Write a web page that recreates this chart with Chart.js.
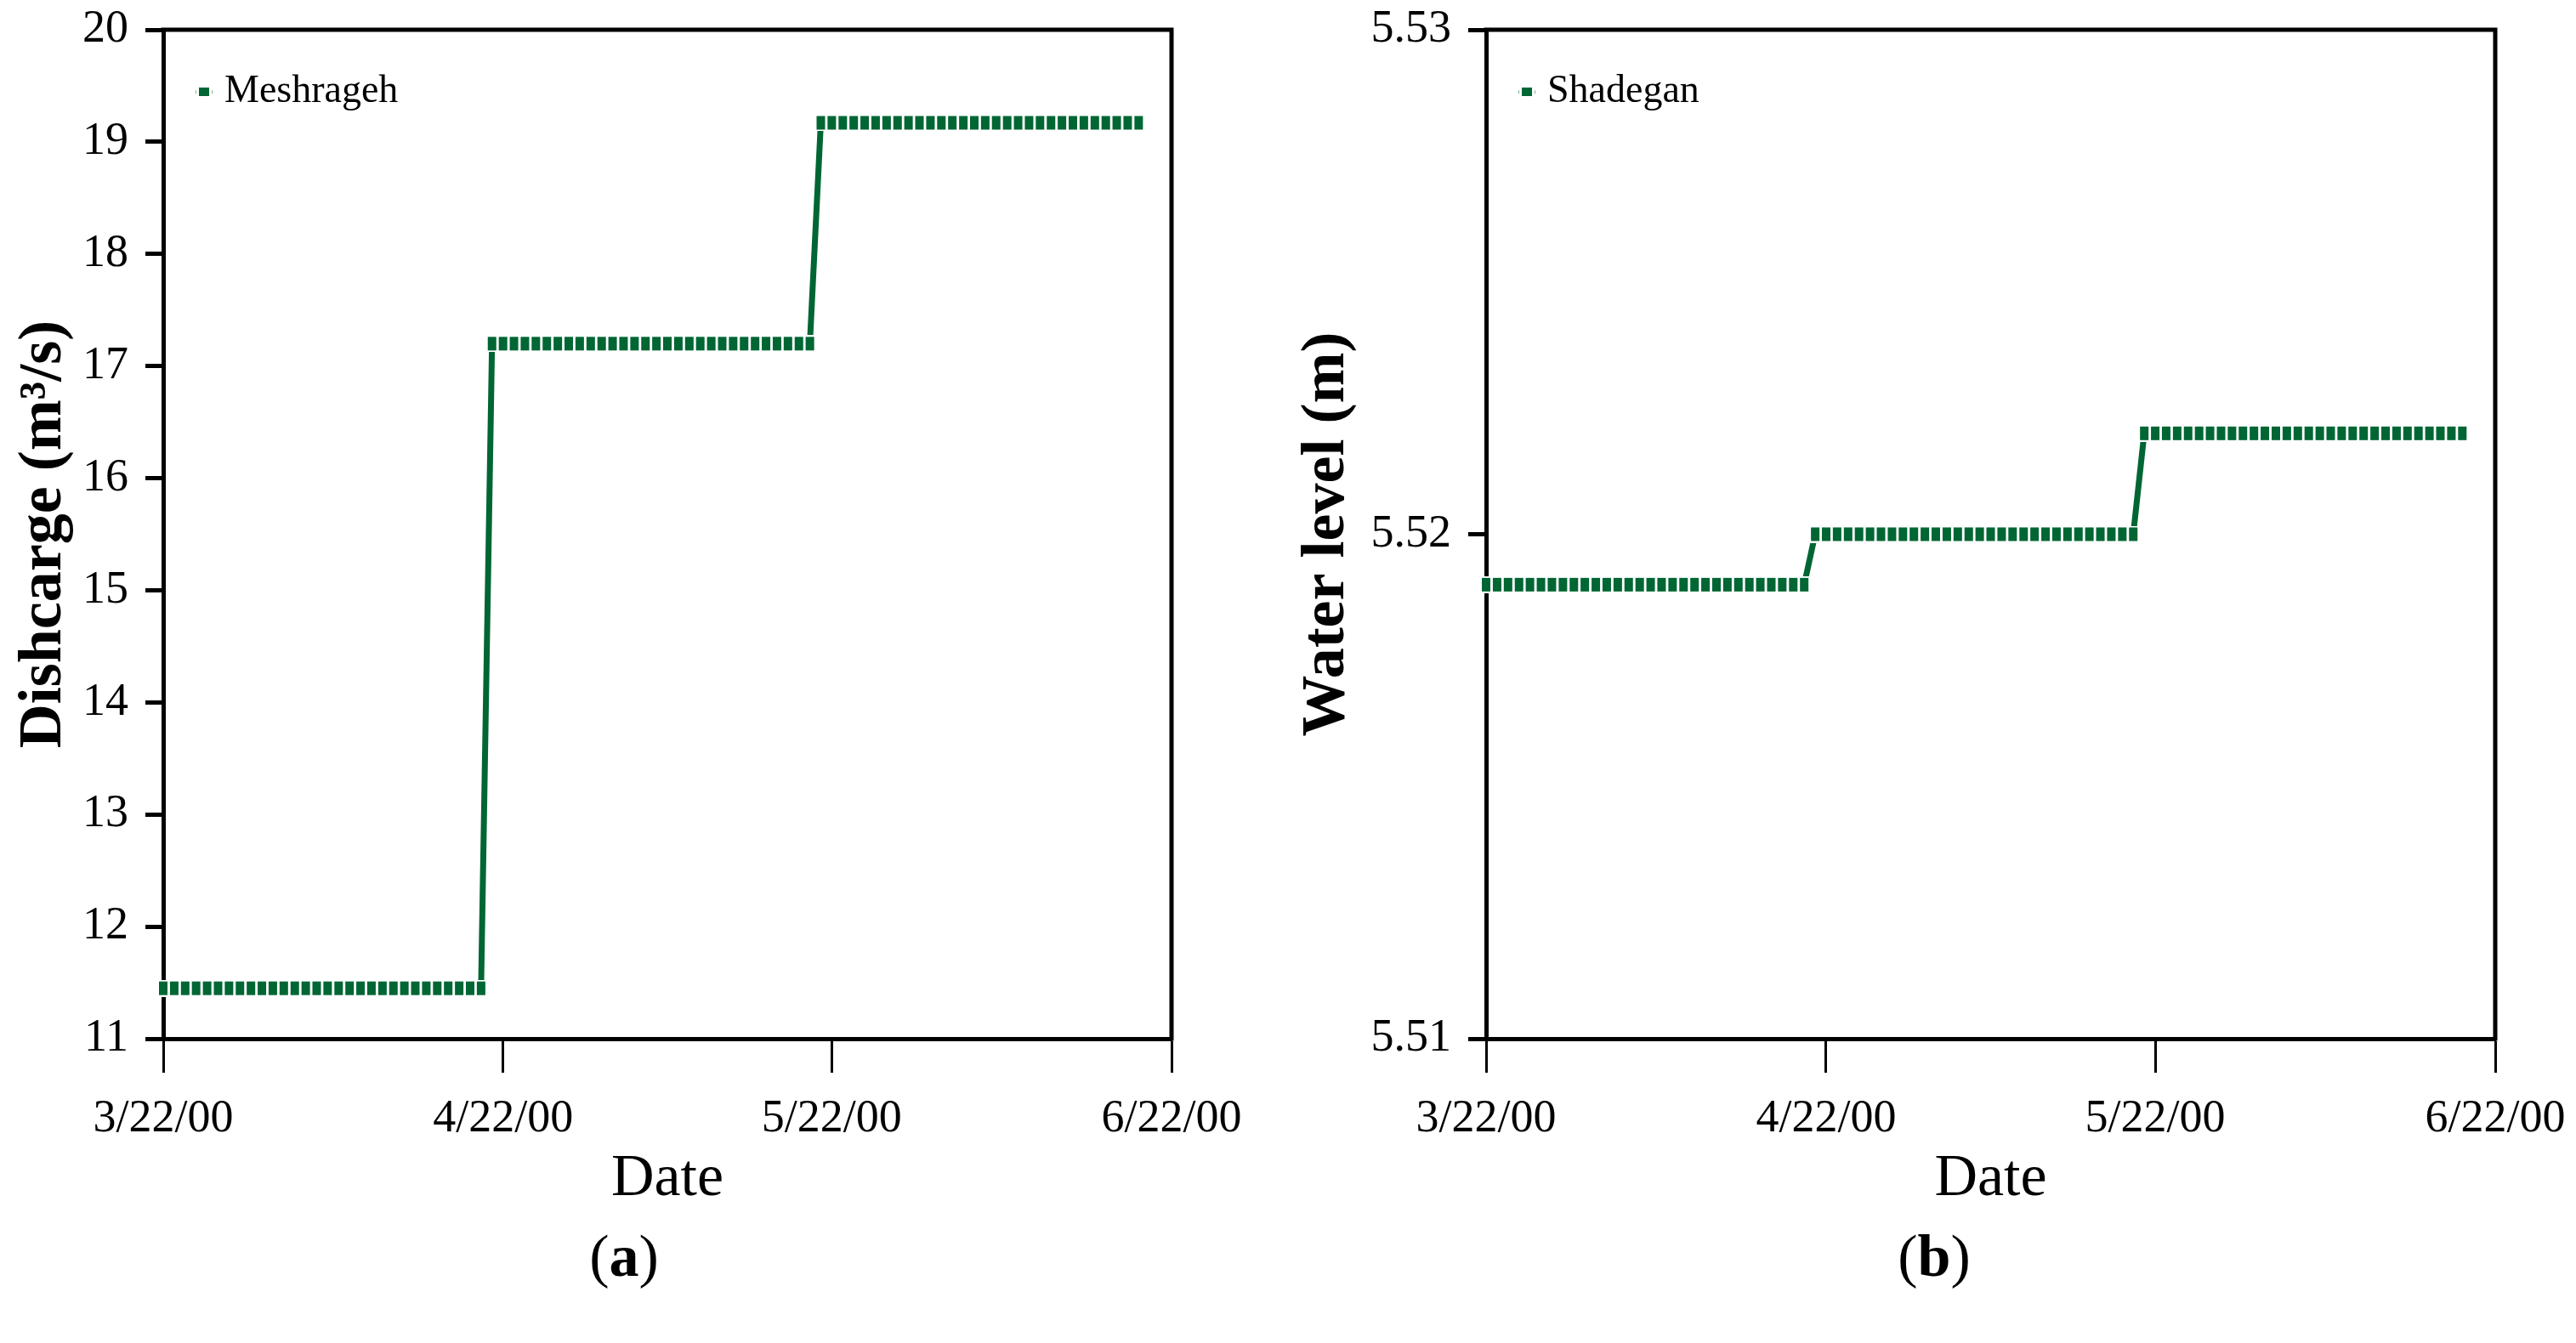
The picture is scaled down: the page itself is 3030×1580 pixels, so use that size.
<!DOCTYPE html>
<html lang="en">
<head>
	<meta charset="UTF-8">
	<title>Meshrageh / Shadegan</title>
	<script src="https://cdn.jsdelivr.net/npm/chart.js"></script>
	<style>
		html, body { margin: 0; padding: 0; background: #fff; }
		body { width: 3030px; height: 1580px; position: relative; overflow: hidden; }
		canvas { position: absolute; top: 0; }
		#chartA { left: 0; }
		#chartB { left: 1509px; }
		.cap { position: absolute; top: 1436px; font-family: 'Liberation Serif', serif; font-size: 70px; line-height: 84px; transform: translateX(-50%); }
	</style>
</head>
<body>
	<canvas id="chartA" width="1509" height="1430"></canvas>
	<canvas id="chartB" width="1531" height="1430"></canvas>
	<div class="cap" style="left:734px">(<b>a</b>)</div>
	<div class="cap" style="left:2275px">(<b>b</b>)</div>

	<script>
		// days after 3/22/00, one reading per day
		const days = [
			0, 1, 2, 3, 4, 5, 6, 7, 8, 9,
			10, 11, 12, 13, 14, 15, 16, 17, 18, 19,
			20, 21, 22, 23, 24, 25, 26, 27, 28, 29,
			30, 31, 32, 33, 34, 35, 36, 37, 38, 39,
			40, 41, 42, 43, 44, 45, 46, 47, 48, 49,
			50, 51, 52, 53, 54, 55, 56, 57, 58, 59,
			60, 61, 62, 63, 64, 65, 66, 67, 68, 69,
			70, 71, 72, 73, 74, 75, 76, 77, 78, 79,
			80, 81, 82, 83, 84, 85, 86, 87, 88, 89
		];
		// discharge (m3/s) at Meshrageh
		const meshrageh = [
			11.45, 11.45, 11.45, 11.45, 11.45, 11.45, 11.45, 11.45, 11.45, 11.45,
			11.45, 11.45, 11.45, 11.45, 11.45, 11.45, 11.45, 11.45, 11.45, 11.45,
			11.45, 11.45, 11.45, 11.45, 11.45, 11.45, 11.45, 11.45, 11.45, 11.45,
			17.2, 17.2, 17.2, 17.2, 17.2, 17.2, 17.2, 17.2, 17.2, 17.2,
			17.2, 17.2, 17.2, 17.2, 17.2, 17.2, 17.2, 17.2, 17.2, 17.2,
			17.2, 17.2, 17.2, 17.2, 17.2, 17.2, 17.2, 17.2, 17.2, 17.2,
			19.17, 19.17, 19.17, 19.17, 19.17, 19.17, 19.17, 19.17, 19.17, 19.17,
			19.17, 19.17, 19.17, 19.17, 19.17, 19.17, 19.17, 19.17, 19.17, 19.17,
			19.17, 19.17, 19.17, 19.17, 19.17, 19.17, 19.17, 19.17, 19.17, 19.17
		];
		// water level (m) at Shadegan
		const shadegan = [
			5.519, 5.519, 5.519, 5.519, 5.519, 5.519, 5.519, 5.519, 5.519, 5.519,
			5.519, 5.519, 5.519, 5.519, 5.519, 5.519, 5.519, 5.519, 5.519, 5.519,
			5.519, 5.519, 5.519, 5.519, 5.519, 5.519, 5.519, 5.519, 5.519, 5.519,
			5.520, 5.520, 5.520, 5.520, 5.520, 5.520, 5.520, 5.520, 5.520, 5.520,
			5.520, 5.520, 5.520, 5.520, 5.520, 5.520, 5.520, 5.520, 5.520, 5.520,
			5.520, 5.520, 5.520, 5.520, 5.520, 5.520, 5.520, 5.520, 5.520, 5.520,
			5.522, 5.522, 5.522, 5.522, 5.522, 5.522, 5.522, 5.522, 5.522, 5.522,
			5.522, 5.522, 5.522, 5.522, 5.522, 5.522, 5.522, 5.522, 5.522, 5.522,
			5.522, 5.522, 5.522, 5.522, 5.522, 5.522, 5.522, 5.522, 5.522, 5.522
		];
		const xTickDays = [0, 31, 61, 92];
		const xTickLabels = ['3/22/00', '4/22/00', '5/22/00', '6/22/00'];
		const yTicksB = [5.51, 5.52, 5.53];
		const yTickLabelsB = ['5.51', '5.52', '5.53'];

		const green = '#006633';
		const font = 'Liberation Serif';

		// tall green marker with a white rim (hides the line between markers)
		function makeMarker() {
			const c = document.createElement('canvas');
			c.width = 14; c.height = 20;
			const g = c.getContext('2d');
			g.fillStyle = '#fff';
			g.fillRect(0, 0, 14, 20);
			g.fillStyle = green;
			g.fillRect(2, 2, 10, 16);
			return c;
		}
		function makeLegendMarker() {
			const c = document.createElement('canvas');
			c.width = 20; c.height = 10;
			const g = c.getContext('2d');
			g.fillStyle = '#7fb299';
			g.fillRect(0, 3, 1, 4);
			g.fillRect(19, 3, 1, 4);
			g.fillStyle = green;
			g.fillRect(4, 0, 12, 10);
			return c;
		}
		const marker = makeMarker();
		const legendMarker = makeLegendMarker();

		// top and right edges of the plot frame
		const framePlugin = {
			id: 'frame',
			afterDraw(chart) {
				const a = chart.chartArea, ctx = chart.ctx;
				ctx.save();
				ctx.strokeStyle = '#000';
				ctx.lineWidth = 5;
				ctx.beginPath();
				ctx.moveTo(a.left - 2.5, a.top);
				ctx.lineTo(a.right, a.top);
				ctx.lineTo(a.right, a.bottom + 2.5);
				ctx.stroke();
				ctx.restore();
			}
		};

		function makeChart(id, label, values, yTitle, yOpts, axisWidth, padRight) {
			const pts = days.map((d, i) => ({x: d, y: values[i]}));
			return new Chart(document.getElementById(id), {
				type: 'line',
				data: {
					datasets: [{
						label: label,
						data: pts,
						borderColor: green,
						backgroundColor: green,
						borderWidth: 7,
						tension: 0,
						pointStyle: marker,
						pointRadius: 7,
						clip: false
					}]
				},
				options: {
					responsive: false,
					animation: false,
					devicePixelRatio: 1,
					layout: { padding: { top: 35, right: padRight, bottom: 0, left: 0 } },
					plugins: {
						tooltip: { enabled: false },
						legend: {
							position: 'chartArea',
							align: 'start',
							// empty title only pushes the entry down
							title: { display: true, text: ' ', padding: { top: 37, bottom: 0 }, font: { size: 1 } },
							labels: {
								usePointStyle: true,
								pointStyle: legendMarker,
								pointStyleWidth: 2,
								padding: 47,
								color: '#000',
								font: { family: font, size: 46 }
							}
						}
					},
					scales: {
						x: {
							type: 'linear',
							min: 0,
							max: 92,
							afterBuildTicks: (axis) => { axis.ticks = xTickDays.map(v => ({value: v})); },
							afterFit: (scale) => { scale.height = 208; },
							ticks: {
								callback: (v) => xTickLabels[xTickDays.indexOf(v)],
								color: '#000',
								padding: 22,
								maxRotation: 0,
								font: { family: font, size: 54 }
							},
							grid: { drawOnChartArea: false, tickLength: 40, tickWidth: 3, tickColor: '#000' },
							border: { display: true, color: '#000', width: 5 },
							title: { display: true, text: 'Date', color: '#000', padding: { top: 0, bottom: 0 }, font: { family: font, size: 70 } }
						},
						y: Object.assign({
							afterFit: (scale) => { scale.width = axisWidth; },
							grid: { drawOnChartArea: false, tickLength: 21, tickWidth: 5, tickColor: '#000' },
							border: { display: true, color: '#000', width: 5 },
							title: { display: true, text: yTitle, color: '#000', padding: { top: 9, bottom: 0 }, font: { family: font, size: 72, weight: 'bold' } }
						}, yOpts)
					}
				},
				plugins: [framePlugin]
			});
		}

		makeChart('chartA', 'Meshrageh', meshrageh, 'Dishcarge (m\u00b3/s)', {
			min: 11, max: 20,
			ticks: { stepSize: 1, color: '#000', padding: 20, font: { family: font, size: 54, lineHeight: 0.5 } }
		}, 192, 131);

		makeChart('chartB', 'Shadegan', shadegan, 'Water level (m)', {
			min: 5.51, max: 5.53,
			afterBuildTicks: (axis) => { axis.ticks = yTicksB.map(v => ({value: v})); },
			ticks: { callback: (v) => yTickLabelsB[yTicksB.indexOf(v)], color: '#000', padding: 20, font: { family: font, size: 54, lineHeight: 0.5 } }
		}, 239, 105);
	</script>
</body>
</html>
